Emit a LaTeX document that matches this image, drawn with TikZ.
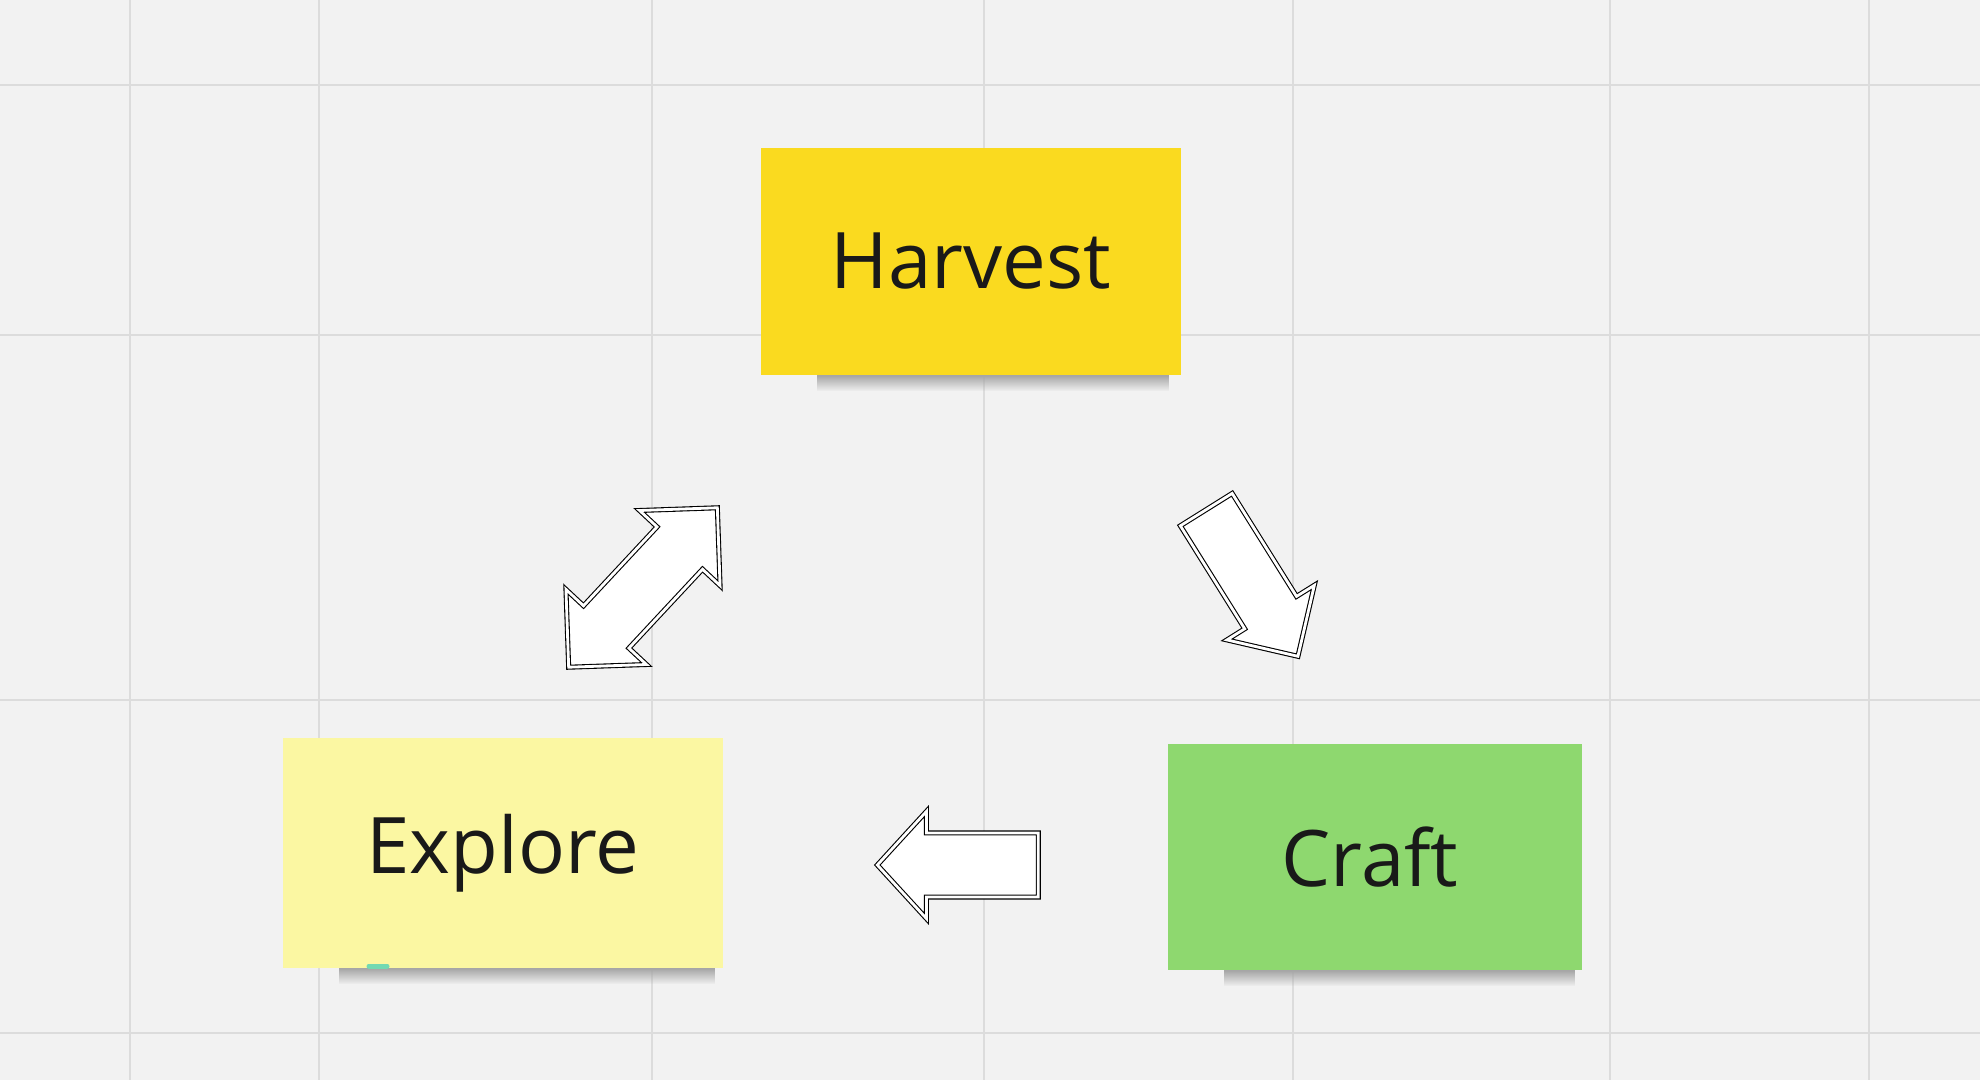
\documentclass[tikz,border=0pt]{standalone}
\usepackage{fontspec}
\setmainfont{Open Sans}
\usetikzlibrary{positioning,shapes.arrows,fadings}
\definecolor{board}{HTML}{F2F2F2}
\definecolor{gridline}{HTML}{DCDCDC}
\definecolor{harvestYellow}{HTML}{FADA1F}
\definecolor{exploreYellow}{HTML}{FBF7A2}
\definecolor{craftGreen}{HTML}{8ED86F}
\definecolor{mintMark}{HTML}{72D9B2}

\begin{document}
\begin{tikzpicture}[
    x=0.5pt, y=-0.5pt,
    note/.style={%
      rectangle,
      inner sep=0pt,
      text=black!90,
      font=\fontsize{39}{46}\selectfont,
    },
    noteshadow/.style={%
      fill=black!35,
      path fading=south,
    },
    blockarrow/.style={%
      draw=black,
      fill=white,
      line width=0.55pt,
      double=white,
      double distance=1.4pt,
      inner xsep=0pt,
      line join=miter,
    },
  ]

    % board and grid
    \fill[board] (0,0) rectangle (1980,1080);
    \useasboundingbox (0,0) rectangle (1980,1080);
    \foreach \gx in {130,319,652,984,1293,1610,1869}
      \draw[gridline, line width=1pt] (\gx,0) -- (\gx,1080);
    \foreach \gy in {85,335,700,1033}
      \draw[gridline, line width=1pt] (0,\gy) -- (1980,\gy);

    % sticky notes
    \node [note, fill=harvestYellow, minimum width=210pt, minimum height=113.5pt] (harvest) at (971,261.5) {Harvest};
    \node [note, fill=exploreYellow, minimum width=220pt, minimum height=115pt] (explore) at (503,853) {Explore};
    \node [note, fill=craftGreen, minimum width=207pt, minimum height=113pt] (craft) at (1375,857) {\hspace*{-5pt}Craft};

    \fill [noteshadow] ([xshift=28pt]harvest.south west) rectangle ([xshift=-6pt,yshift=-8pt]harvest.south east);
    \fill [noteshadow] ([xshift=28pt]explore.south west) rectangle ([xshift=-4pt,yshift=-8pt]explore.south east);
    \fill [noteshadow] ([xshift=28pt]craft.south west) rectangle ([xshift=-4pt,yshift=-8pt]craft.south east);

    \draw [mintMark, line width=2.5pt, line cap=round] (369,966) -- (387,966);

    % block arrows
    \node [blockarrow, double arrow, inner ysep=15.25pt, minimum height=109pt,
      double arrow head extend=12pt, double arrow tip angle=90, rotate=47] (toHarvest) at (643,587.5) {};
    \node [blockarrow, single arrow, inner ysep=15pt, minimum height=86.5pt,
      single arrow head extend=10.5pt, single arrow tip angle=90, rotate=-58] (toCraft) at (1244,570) {};
    \node [blockarrow, single arrow, inner ysep=15.75pt, minimum height=80.5pt,
      single arrow head extend=10.75pt, single arrow tip angle=95, rotate=180] (toExplore) at (972.5,865) {};
    \end{tikzpicture}
\end{document}
